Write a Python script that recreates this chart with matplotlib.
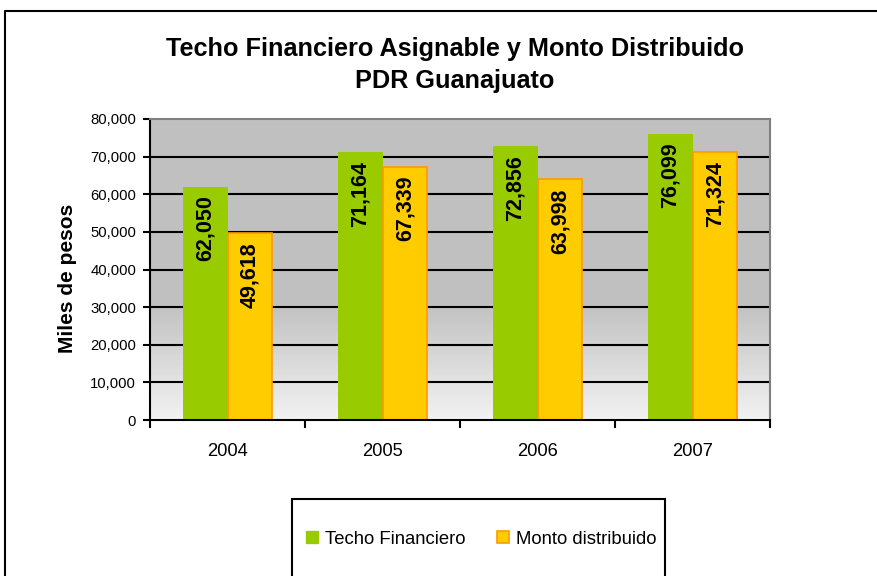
import numpy as np
import matplotlib.pyplot as plt
from matplotlib.lines import Line2D
from matplotlib.patches import Rectangle
from matplotlib.colors import LinearSegmentedColormap

plt.rcParams['font.family'] = ['Liberation Sans', 'DejaVu Sans']

# data
years = ['2004', '2005', '2006', '2007']
techo = [62050, 71164, 72856, 76099]
monto = [49618, 67339, 63998, 71324]
series_names = ['Techo Financiero', 'Monto distribuido']

fig = plt.figure(figsize=(8.77, 5.76), dpi=100)
ax = fig.add_axes([150/877, 1-420/576, 620/877, 301/576])

x = np.arange(len(years))
w = 0.29

# gray background, fading to light at the bottom
grad = np.concatenate([np.linspace(0, 1, 40), np.ones(60)])[:, None]
cmap = LinearSegmentedColormap.from_list('bg', ['#f2f2f2', '#c0c0c0'])
ax.imshow(grad, extent=[-0.5, 3.5, 0, 80000], origin='lower', aspect='auto',
          cmap=cmap, zorder=0)

for v in range(10000, 80000, 10000):
    ax.axhline(v, color='black', lw=1.5, zorder=1)

b1 = ax.bar(x - w/2, techo, w, color='#99cc00', zorder=2)
b2 = ax.bar(x + w/2, monto, w, color='#ffcc00', edgecolor='#ff9900', lw=1.2, zorder=2)

for xi, v in zip(x - w/2, techo):
    ax.text(xi, v - 2400, f'{v:,}', rotation=90, ha='center', va='top',
            fontsize=15.5, fontweight='bold', zorder=3)
for xi, v in zip(x + w/2, monto):
    ax.text(xi, v - 2400, f'{v:,}', rotation=90, ha='center', va='top',
            fontsize=15.5, fontweight='bold', zorder=3)

ax.set_xlim(-0.5, 3.5)
ax.set_ylim(0, 80000)
ax.set_yticks(range(0, 80001, 10000))
ax.set_yticklabels([f'{v:,}' for v in range(0, 80001, 10000)])
ax.tick_params(axis='y', direction='out', length=5, width=1.5, pad=5, labelsize=10.7)

ax.set_xticks([-0.5, 0.5, 1.5, 2.5, 3.5])
ax.set_xticklabels([])
ax.set_xticks(x, minor=True)
ax.set_xticklabels(years, minor=True)
ax.tick_params(axis='x', which='major', direction='out', length=6, width=1.5)
ax.tick_params(axis='x', which='minor', length=0, pad=16.5, labelsize=13.2)

ax.set_ylabel('Miles de pesos', fontsize=15, fontweight='bold')
ax.yaxis.set_label_coords(-0.117, 0.47)

for s in ['top', 'right']:
    ax.spines[s].set_color('#808080')
    ax.spines[s].set_linewidth(1.5)
for s in ['left', 'bottom']:
    ax.spines[s].set_color('black')
    ax.spines[s].set_linewidth(1.5)

fig.text(0.519, 1-65/576, 'Techo Financiero Asignable y Monto Distribuido\nPDR Guanajuato',
         ha='center', va='center', fontsize=18.2, fontweight='bold', linespacing=1.45)

handles = [Line2D([], [], ls='none', marker='s', markersize=9, markerfacecolor='#99cc00',
                  markeredgecolor='#99cc00'),
           Line2D([], [], ls='none', marker='s', markersize=9, markerfacecolor='#ffcc00',
                  markeredgecolor='#ff9900', markeredgewidth=1.2)]
fig.legend(handles, series_names, loc='center', bbox_to_anchor=(0.547, 1-539/576),
           ncol=2, frameon=False, fontsize=13.3, handletextpad=0.2, columnspacing=1.55,
           handlelength=1.0)

fig.patches.append(Rectangle((292/877, -0.05), 373/877, 0.05 + 1-499/576, fill=False,
                             ec='black', lw=1.5, transform=fig.transFigure))
fig.lines.append(Line2D([5/877, 5/877, 1.0], [0, 1-11/576, 1-11/576], color='black',
                        lw=1.5, transform=fig.transFigure))

fig.savefig('out.png', dpi=100)
